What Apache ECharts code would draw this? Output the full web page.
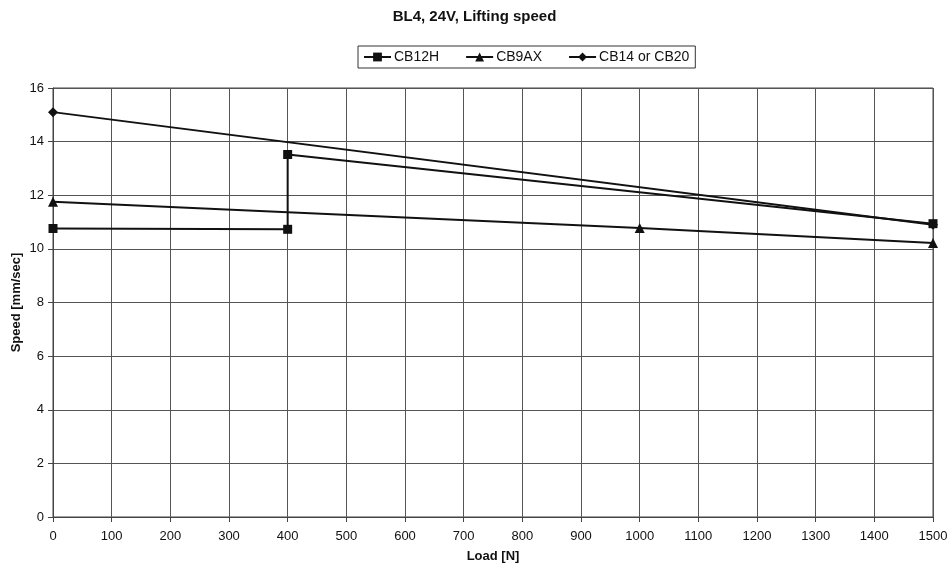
<!DOCTYPE html>
<html><head><meta charset="utf-8">
<script src="https://cdn.jsdelivr.net/npm/echarts@6/dist/echarts.min.js"></script>
<style>html,body{margin:0;padding:0;background:#fff}#c{width:949px;height:568px}</style>
</head><body><div id="c"></div>
<script>
const titleText = "BL4, 24V, Lifting speed";
const seriesNames = ["CB12H", "CB9AX", "CB14 or CB20"];
const cb12hData = [[0, 10.76], [400, 10.73], [400, 13.52], [1500, 10.94]];
const cb9axData = [[0, 11.76], [1000, 10.78], [1500, 10.22]];
const cb14Data = [[0, 15.1], [1500, 10.9]];
const xTicks = {min: 0, max: 1500, interval: 100};
const yTicks = {min: 0, max: 16, interval: 2};

const font = "Liberation Sans, Arial, sans-serif";
const chart = echarts.init(document.getElementById('c'), null, {renderer: 'canvas'});
function mkSeries(name, data, symbol, size) {
  return {
    name: name, type: 'line', data: data, symbol: symbol, symbolSize: size,
    showAllSymbol: true,
    lineStyle: {color: '#111', width: 2}, itemStyle: {color: '#111'},
    emphasis: {disabled: true}, animation: false
  };
}
chart.setOption({
  animation: false,
  backgroundColor: '#fff',
  title: {text: titleText, left: 'center', top: 9, padding: 0,
    textStyle: {fontFamily: font, fontSize: 15, fontWeight: 'bold', color: '#111'}},
  legend: {
    top: 46, left: 358,
    data: seriesNames,
    borderColor: '#333', borderWidth: 1, borderRadius: 0,
    padding: [4, 6, 4, 5], itemGap: 26, itemWidth: 27, itemHeight: 11,
    lineStyle: {width: 2, color: '#111'},
    textStyle: {fontFamily: font, fontSize: 14, color: '#111', padding: [0, 0, 0, -2]}
  },
  grid: {left: 53, right: 16, top: 88, bottom: 51, show: true, borderColor: '#444', borderWidth: 1,
    containLabel: false, outerBoundsMode: 'none'},
  xAxis: {
    type: 'value', min: xTicks.min, max: xTicks.max, interval: xTicks.interval,
    name: 'Load [N]', nameLocation: 'middle', nameGap: 33, nameMoveOverlap: false,
    nameTextStyle: {fontFamily: font, fontSize: 13, fontWeight: 'bold', color: '#111'},
    axisLine: {show: true, lineStyle: {color: '#444'}},
    axisTick: {show: true, length: 5, inside: false, lineStyle: {color: '#444'}},
    axisLabel: {fontFamily: font, fontSize: 13, color: '#111', margin: 13,
      formatter: function (v) { return String(v); }},
    splitLine: {show: true, lineStyle: {color: '#555', width: 1}}
  },
  yAxis: {
    type: 'value', min: yTicks.min, max: yTicks.max, interval: yTicks.interval,
    name: 'Speed [mm/sec]', nameLocation: 'middle', nameGap: 30, nameRotate: 90, nameMoveOverlap: false,
    nameTextStyle: {fontFamily: font, fontSize: 13, fontWeight: 'bold', color: '#111'},
    axisLine: {show: true, lineStyle: {color: '#444'}},
    axisTick: {show: true, length: 5, lineStyle: {color: '#444'}},
    axisLabel: {fontFamily: font, fontSize: 13, color: '#111', margin: 9},
    splitLine: {show: true, lineStyle: {color: '#555', width: 1}}
  },
  series: [
    mkSeries(seriesNames[0], cb12hData, 'rect', 9),
    mkSeries(seriesNames[1], cb9axData, 'triangle', 10),
    mkSeries(seriesNames[2], cb14Data, 'diamond', 10)
  ]
});
</script></body></html>
